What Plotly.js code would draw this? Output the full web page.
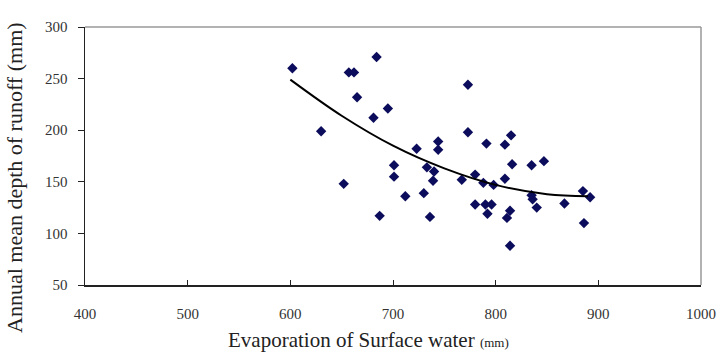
<!DOCTYPE html>
<html>
<head>
<meta charset="utf-8">
<script src="https://cdn.plot.ly/plotly-3.0.1.min.js"></script>
<style>html,body{margin:0;padding:0;background:#fff;}#chart{width:723px;height:356px;}</style>
</head>
<body>
<div id="chart"></div>
<script>
// Observed points: evaporation of surface water (mm) vs annual mean depth of runoff (mm)
var evaporation = [602, 684, 657, 662, 665, 695, 681, 630, 744, 744, 723, 701, 701, 733, 740, 739, 730, 712, 652, 687, 736,
                   773, 773, 815, 809, 791, 816, 835, 847, 780, 767, 788, 798, 809, 835, 836, 840, 867, 885, 892, 886,
                   780, 790, 796, 792, 814, 811, 814];
var runoff = [260, 271, 256, 256, 232, 221, 212, 199, 189, 181, 182, 166, 155, 164, 160, 151, 139, 136, 148, 117, 116,
              244, 198, 195, 186, 187, 167, 166, 170, 157, 152, 149, 147, 153, 137, 133, 125, 129, 141, 135, 110,
              128, 128, 128, 119, 122, 115, 88];
// Trend line
var trendX = [600, 650, 700, 750, 800, 850, 890];
var trendY = [249, 214, 185, 163, 147, 138, 136];
var xTicks = [400, 500, 600, 700, 800, 900, 1000];
var yTicks = [50, 100, 150, 200, 250, 300];

var font = 'Liberation Serif, Times New Roman, serif';
var traces = [
  {x: evaporation, y: runoff, type: 'scatter', mode: 'markers',
   marker: {symbol: 'diamond', size: 8, color: '#0c0c5c'}, hoverinfo: 'x+y'},
  {x: trendX, y: trendY, type: 'scatter', mode: 'lines',
   line: {color: '#000', width: 2, shape: 'spline', smoothing: 1}, hoverinfo: 'skip'}
];
var layout = {
  width: 723, height: 356,
  margin: {l: 85, r: 22, t: 27, b: 71},
  paper_bgcolor: '#fff', plot_bgcolor: '#fff',
  showlegend: false,
  font: {family: font, size: 15, color: '#333'},
  xaxis: {range: [400, 1000], tickvals: xTicks, ticktext: xTicks.map(String),
          showgrid: false, zeroline: false, showline: true, linecolor: '#222', linewidth: 1.5,
          ticks: 'inside', ticklen: 5, tickcolor: '#222', ticklabelstandoff: 14,
          tickfont: {family: font, size: 15, color: '#333'}},
  yaxis: {range: [50, 300], tickvals: yTicks, ticktext: yTicks.map(String),
          showgrid: false, zeroline: false, showline: true, linecolor: '#222', linewidth: 1.5,
          ticks: 'outside', ticklen: 6, tickcolor: '#222', ticklabelstandoff: 7,
          tickfont: {family: font, size: 15, color: '#333'}},
  shapes: [
    {type: 'line', xref: 'paper', yref: 'paper', x0: 0, x1: 1, y0: 1, y1: 1, line: {color: '#999', width: 1.5}},
    {type: 'line', xref: 'paper', yref: 'paper', x0: 1, x1: 1, y0: 0, y1: 1, line: {color: '#999', width: 1.5}}
  ],
  annotations: [
    {text: 'Evaporation of Surface water <span style="font-size:13px">(mm)</span>', xref: 'paper', yref: 'paper',
     x: (368 - 85) / 616, y: -(340 - 285) / 258, xanchor: 'center', yanchor: 'middle', showarrow: false,
     font: {family: font, size: 21, color: '#222'}},
    {text: 'Annual mean depth of runoff (mm)', xref: 'paper', yref: 'paper',
     x: -(85 - 15) / 616, y: (285 - 178) / 258, xanchor: 'center', yanchor: 'middle', textangle: -90, showarrow: false,
     font: {family: font, size: 22, color: '#222'}}
  ]
};
Plotly.newPlot('chart', traces, layout, {displayModeBar: false, staticPlot: true});
</script>
</body>
</html>
